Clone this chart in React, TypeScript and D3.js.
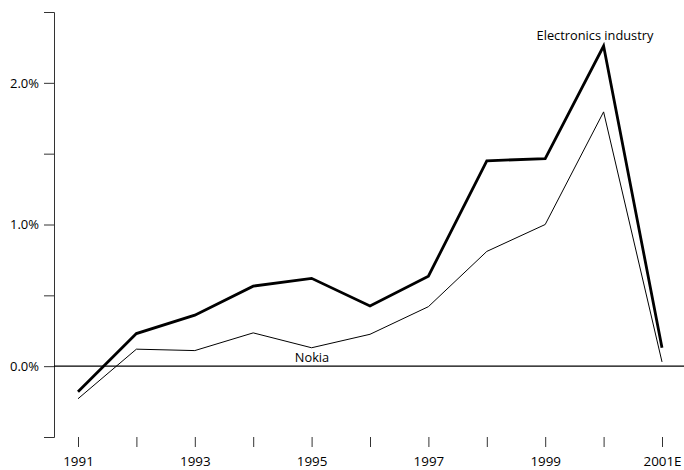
import React, { useEffect, useRef } from 'react';
import { select, scaleLinear, axisLeft, axisBottom, line } from 'd3';

const years = [1991, 1992, 1993, 1994, 1995, 1996, 1997, 1998, 1999, 2000, 2001];
const yearLabels = ['1991', '', '1993', '', '1995', '', '1997', '', '1999', '', '2001E'];
const electronics = [-0.18, 0.23, 0.36, 0.565, 0.62, 0.425, 0.635, 1.45, 1.465, 2.26, 0.13];
const nokia = [-0.23, 0.12, 0.11, 0.235, 0.13, 0.225, 0.42, 0.81, 1.0, 1.795, 0.03];
const yTicks = [-0.5, 0, 0.5, 1, 1.5, 2, 2.5];

const W = 684;
const H = 470;

export default function App() {
  const svgRef = useRef<SVGSVGElement>(null);

  useEffect(() => {
    if (!svgRef.current) return;
    document.body.style.margin = '0';

    const svg = select(svgRef.current);
    svg.selectAll('*').remove();

    const x = scaleLinear().domain([1991, 2001]).range([78, 662]);
    const y = scaleLinear().domain([-0.5, 2.5]).range([437, 12]);
    const axisX = 54;
    const font = '"Open Sans", "Noto Sans", sans-serif';

    // Left axis, ticks every 0.5, labels on whole percents
    const yAxis = svg.append('g')
      .attr('transform', `translate(${axisX},0)`)
      .call(axisLeft(y)
        .tickValues(yTicks)
        .tickSize(10)
        .tickSizeOuter(10)
        .tickPadding(5)
        .tickFormat(d => (Number(d) % 1 === 0 && Number(d) >= 0 ? `${Number(d).toFixed(1)}%` : '')));
    yAxis.select('.domain').attr('stroke', '#333');
    yAxis.selectAll('.tick line').attr('stroke', '#333');
    yAxis.selectAll('text')
      .attr('fill', '#000')
      .style('font-family', font)
      .style('font-size', '13px');

    // Bottom ticks, no baseline
    const xAxis = svg.append('g')
      .attr('transform', `translate(0,${y(-0.5)})`)
      .call(axisBottom(x)
        .tickValues(years)
        .tickSize(10)
        .tickPadding(9)
        .tickFormat((d, i) => yearLabels[i]));
    xAxis.select('.domain').remove();
    xAxis.selectAll('.tick line').attr('stroke', '#333');
    xAxis.selectAll('text')
      .attr('fill', '#000')
      .style('font-family', font)
      .style('font-size', '13.4px');

    // Zero line
    svg.append('line')
      .attr('x1', axisX)
      .attr('x2', W)
      .attr('y1', y(0))
      .attr('y2', y(0))
      .attr('stroke', '#000')
      .attr('stroke-width', 1.2);

    const lineGen = line<number>()
      .x((d, i) => x(years[i]))
      .y(d => y(d));

    svg.append('path')
      .datum(nokia)
      .attr('d', lineGen)
      .attr('fill', 'none')
      .attr('stroke', '#000')
      .attr('stroke-width', 1);

    svg.append('path')
      .datum(electronics)
      .attr('d', lineGen)
      .attr('fill', 'none')
      .attr('stroke', '#000')
      .attr('stroke-width', 2.8)
      .attr('stroke-linejoin', 'miter');

    // Series labels
    svg.append('text')
      .attr('x', 595)
      .attr('y', 40)
      .attr('text-anchor', 'middle')
      .attr('fill', '#000')
      .style('font-family', font)
      .style('font-size', '12.8px')
      .text('Electronics industry');

    svg.append('text')
      .attr('x', 312)
      .attr('y', 362)
      .attr('text-anchor', 'middle')
      .attr('fill', '#000')
      .style('font-family', font)
      .style('font-size', '12.8px')
      .text('Nokia');
  }, []);

  return <svg ref={svgRef} width={W} height={H} style={{ display: 'block' }} />;
}
